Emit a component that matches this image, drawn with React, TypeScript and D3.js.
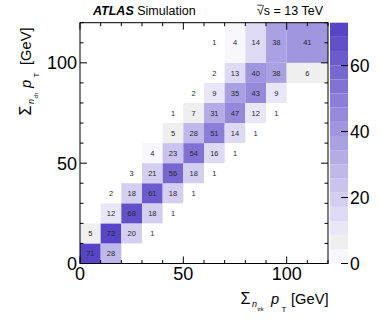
import React from "react";
import * as d3 from "d3";

const xEdges = [0, 10, 20, 30, 40, 50, 60, 70, 80, 90, 100, 120];
const yEdges = [0, 10, 20, 30, 40, 50, 60, 70, 80, 90, 100, 120];
// counts[yBin][xBin]
const counts = [
  [71, 28, 0, 0, 0, 0, 0, 0, 0, 0, 0],
  [5, 73, 20, 1, 0, 0, 0, 0, 0, 0, 0],
  [0, 12, 68, 18, 1, 0, 0, 0, 0, 0, 0],
  [0, 2, 18, 61, 18, 1, 0, 0, 0, 0, 0],
  [0, 0, 3, 21, 56, 18, 1, 0, 0, 0, 0],
  [0, 0, 0, 4, 23, 54, 16, 1, 0, 0, 0],
  [0, 0, 0, 0, 5, 28, 51, 14, 1, 0, 0],
  [0, 0, 0, 0, 1, 7, 31, 47, 12, 1, 0],
  [0, 0, 0, 0, 0, 2, 9, 35, 43, 9, 0],
  [0, 0, 0, 0, 0, 0, 2, 13, 40, 38, 6],
  [0, 0, 0, 0, 0, 0, 1, 4, 14, 38, 41],
];
const xTicks = [0, 50, 100];
const yTicks = [0, 50, 100];
const zTicks = [0, 20, 40, 60];
const zMax = 73;
const nBands = 17;

const FONT = "'Liberation Sans', Arial, Helvetica, sans-serif";

const W = 382;
const H = 323;
const L = 80, R = 328, T = 22.7, B = 263.5;
const CB_L = 330, CB_R = 348;

function bandIndex(v: number) {
  return Math.min(nBands - 1, Math.floor(v / (zMax / nBands)));
}
const ramp = d3.interpolateRgb("#e9e6f7", "#5744c6");
function bandColor(i: number) {
  if (i === 0) return "#f8f7fc";
  if (i === 1) return "#efefef";
  return ramp((i - 2) / (nBands - 3));
}

export default function App() {
  const x = d3.scaleLinear().domain([0, 120]).range([L, R]);
  const y = d3.scaleLinear().domain([0, 120]).range([B, T]);
  const z = d3.scaleLinear().domain([0, zMax]).range([B, T]);
  const minor = d3.range(0, 121, 10);

  const cells: any[] = [];
  counts.forEach((row, yi) => {
    row.forEach((v, xi) => {
      if (v <= 0) return;
      const x0 = x(xEdges[xi]), x1 = x(xEdges[xi + 1]);
      const y0 = y(yEdges[yi + 1]), y1 = y(yEdges[yi]);
      cells.push(
        <g key={`${yi}-${xi}`}>
          {v >= 3.5 && (
            <rect x={x0} y={y0} width={x1 - x0} height={y1 - y0} fill={bandColor(bandIndex(v))} />
          )}
          <text
            x={(x0 + x1) / 2}
            y={(y0 + y1) / 2}
            dy="0.36em"
            textAnchor="middle"
            fontSize={7.5}
            fill="#2a2a2a"
          >
            {v}
          </text>
        </g>
      );
    });
  });

  const bands = d3.range(nBands).map((i) => {
    const v0 = (i * zMax) / nBands, v1 = ((i + 1) * zMax) / nBands;
    return (
      <rect key={i} x={CB_L} y={z(v1)} width={CB_R - CB_L} height={z(v0) - z(v1)} fill={bandColor(i)} />
    );
  });

  const tickLen = (v: number) => (v % 50 === 0 ? 7 : 3.5);

  return (
    <svg
      width={W}
      height={H}
      style={{ position: "absolute", left: 0, top: 0, background: "#fff" }}
      fontFamily={FONT}
    >
      <rect x={0} y={0} width={W} height={H} fill="#fff" />
      {cells}
      {/* frame */}
      <rect x={L} y={T} width={R - L} height={B - T} fill="none" stroke="#000" strokeWidth={1} />
      {/* x ticks bottom & top */}
      {minor.map((v) => (
        <g key={"xt" + v} stroke="#000" strokeWidth={1}>
          <line x1={x(v)} x2={x(v)} y1={B} y2={B - tickLen(v)} />
          <line x1={x(v)} x2={x(v)} y1={T} y2={T + tickLen(v)} />
        </g>
      ))}
      {minor.map((v) => (
        <g key={"yt" + v} stroke="#000" strokeWidth={1}>
          <line x1={L} x2={L + tickLen(v)} y1={y(v)} y2={y(v)} />
          <line x1={R} x2={R - tickLen(v)} y1={y(v)} y2={y(v)} />
        </g>
      ))}
      {xTicks.map((v) => (
        <text key={"xl" + v} x={x(v)} y={280} textAnchor="middle" fontSize={18} fill="#000">
          {v}
        </text>
      ))}
      {yTicks.map((v) => (
        <text key={"yl" + v} x={77} y={y(v)} dy="0.36em" textAnchor="end" fontSize={18} fill="#000">
          {v}
        </text>
      ))}
      {/* colour bar */}
      {bands}
      {zTicks.map((v) => (
        <g key={"zt" + v}>
          <line x1={CB_R} x2={CB_R - 7} y1={z(v)} y2={z(v)} stroke="#000" strokeWidth={1} />
          <text x={350} y={z(v)} dy="0.36em" fontSize={17.5} fill="#000">
            {v}
          </text>
        </g>
      ))}
      {/* header */}
      <text x={93} y={15} fontSize={12.5} fill="#000">
        <tspan fontWeight="bold" fontStyle="italic">ATLAS</tspan>
        <tspan> Simulation</tspan>
      </text>
      <text x={323} y={15} fontSize={12.5} textAnchor="end" fill="#000">
        √s = 13 TeV
      </text>
      <line x1={257.5} x2={262.5} y1={5.2} y2={5.2} stroke="#000" strokeWidth={0.8} />
      {/* x title */}
      <g fill="#000">
        <text x={240.5} y={303.5} fontSize={16}>Σ</text>
        <text x={252} y={306.5} fontSize={9} fontStyle="italic">n</text>
        <text x={257.5} y={311} fontSize={5.5}>trk</text>
        <text x={271} y={303.5} fontSize={14.7} fontStyle="italic">p</text>
        <text x={281.5} y={311.5} fontSize={8}>T</text>
        <text x={291} y={303.5} fontSize={14.7}>[GeV]</text>
      </g>
      {/* y title (rotated) */}
      <g fill="#000" transform="translate(30.5,0) rotate(-90)">
        <text x={-115.5} y={0} fontSize={16}>Σ</text>
        <text x={-104} y={3} fontSize={9} fontStyle="italic">n</text>
        <text x={-98.5} y={7.5} fontSize={5.5}>ch</text>
        <text x={-88} y={0} fontSize={14.7} fontStyle="italic">p</text>
        <text x={-77.5} y={8} fontSize={8}>T</text>
        <text x={-65} y={0} fontSize={14.7}>[GeV]</text>
      </g>
    </svg>
  );
}
